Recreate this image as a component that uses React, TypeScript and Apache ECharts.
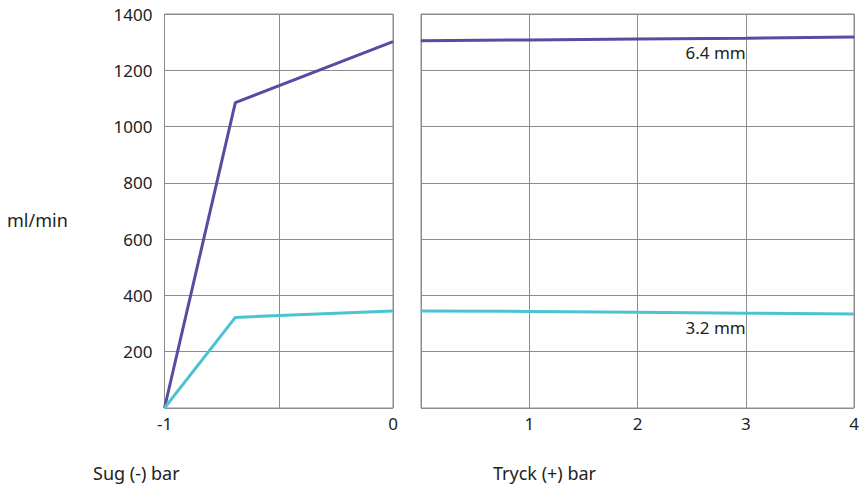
import React, { useEffect, useRef } from "react";
import * as echarts from "echarts";

const suctionX = [-1, -0.69, 0];
const suction64 = [0, 1085, 1302];
const suction32 = [0, 322, 345];
const pressureX = [0, 1, 2, 3, 4];
const pressure64 = [1305, 1308, 1311, 1314, 1318];
const pressure32 = [345, 343, 340, 337, 334];
const yTicks = [0, 200, 400, 600, 800, 1000, 1200, 1400];

const PURPLE = "#5b4aa1";
const CYAN = "#4cc3d3";
const GRID = "#8c8c8c";
const TEXT = "#222";
const FONT = "Noto Sans";

export default function App() {
  const ref = useRef<HTMLDivElement>(null);
  useEffect(() => {
    if (!ref.current) return;
    const chart = echarts.init(ref.current, null, { renderer: "svg" });
    const yMax = yTicks[yTicks.length - 1];
    const label = { show: true, color: TEXT, fontFamily: FONT, fontSize: 17 };
    const title = { fill: TEXT, fontFamily: FONT, fontSize: 18 };
    chart.setOption({
      animation: false,
      textStyle: { fontFamily: FONT },
      grid: [
        { left: 164.5, right: 469, top: 14, bottom: 79, show: true, borderColor: GRID, borderWidth: 1 },
        { left: 421, right: 8, top: 14, bottom: 79, show: true, borderColor: GRID, borderWidth: 1 },
      ],
      xAxis: [
        {
          type: "value", gridIndex: 0, min: -1, max: 0, interval: 0.5,
          axisLine: { show: false }, axisTick: { show: false },
          splitLine: { show: true, lineStyle: { color: GRID, width: 1 } },
          axisLabel: { ...label, margin: 7, formatter: (v: number) => (Number.isInteger(v) ? String(v) : "") },
        },
        {
          type: "value", gridIndex: 1, min: 0, max: 4, interval: 1,
          axisLine: { show: false }, axisTick: { show: false },
          splitLine: { show: true, lineStyle: { color: GRID, width: 1 } },
          axisLabel: { ...label, margin: 7, formatter: (v: number) => (v === 0 ? "" : String(v)) },
        },
      ],
      yAxis: [
        {
          type: "value", gridIndex: 0, min: 0, max: yMax, interval: 200,
          axisLine: { show: false }, axisTick: { show: false },
          splitLine: { show: true, lineStyle: { color: GRID, width: 1 } },
          axisLabel: { ...label, margin: 12, formatter: (v: number) => (v === 0 ? "" : String(v)) },
        },
        {
          type: "value", gridIndex: 1, min: 0, max: yMax, interval: 200,
          axisLine: { show: false }, axisTick: { show: false },
          splitLine: { show: true, lineStyle: { color: GRID, width: 1 } },
          axisLabel: { show: false },
        },
      ],
      series: [
        {
          type: "line", xAxisIndex: 0, yAxisIndex: 0, showSymbol: false,
          lineStyle: { color: PURPLE, width: 3 }, itemStyle: { color: PURPLE },
          data: suctionX.map((x, i) => [x, suction64[i]]),
        },
        {
          type: "line", xAxisIndex: 0, yAxisIndex: 0, showSymbol: false,
          lineStyle: { color: CYAN, width: 3 }, itemStyle: { color: CYAN },
          data: suctionX.map((x, i) => [x, suction32[i]]),
        },
        {
          type: "line", xAxisIndex: 1, yAxisIndex: 1, showSymbol: true, symbol: "circle", symbolSize: 1,
          lineStyle: { color: PURPLE, width: 3 }, itemStyle: { color: PURPLE },
          data: pressureX.map((x, i) =>
            x === 3
              ? { value: [x, pressure64[i]], label: { ...label, position: "bottom", align: "right", distance: 5, formatter: "6.4 mm" } }
              : [x, pressure64[i]]
          ),
        },
        {
          type: "line", xAxisIndex: 1, yAxisIndex: 1, showSymbol: true, symbol: "circle", symbolSize: 1,
          lineStyle: { color: CYAN, width: 3 }, itemStyle: { color: CYAN },
          data: pressureX.map((x, i) =>
            x === 3
              ? { value: [x, pressure32[i]], label: { ...label, position: "bottom", align: "right", distance: 5, formatter: "3.2 mm" } }
              : [x, pressure32[i]]
          ),
        },
      ],
      graphic: [
        { type: "text", left: 7, top: 211, style: { text: "ml/min", ...title } },
        { type: "text", left: 93, top: 464, style: { text: "Sug (-) bar", ...title } },
        { type: "text", left: 493, top: 464, style: { text: "Tryck (+) bar", ...title } },
      ],
    });
    return () => chart.dispose();
  }, []);
  return <div ref={ref} style={{ width: 862, height: 487, position: "absolute", left: 0, top: 0 }} />;
}
